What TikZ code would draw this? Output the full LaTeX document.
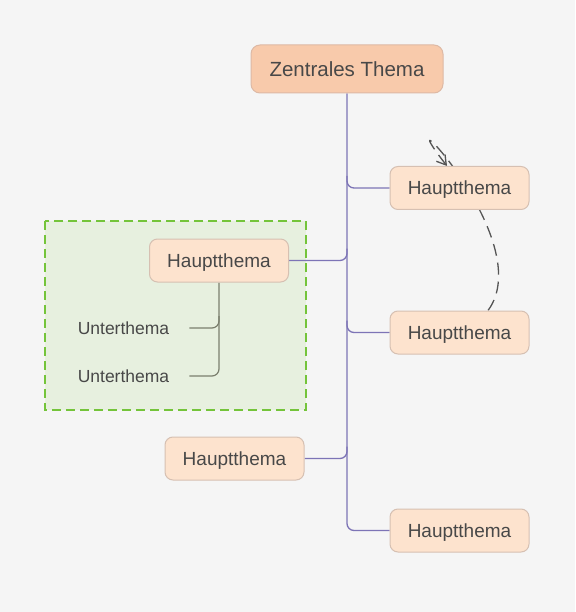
\documentclass[tikz,border=0pt]{standalone}
\usepackage{fontspec}
\setmainfont{Liberation Sans}
\usetikzlibrary{arrows.meta,positioning}

\definecolor{bgcol}{HTML}{F5F5F5}
\definecolor{zfill}{HTML}{F8CAAB}
\definecolor{zdraw}{HTML}{DDB9A5}
\definecolor{hfill}{HTML}{FDE3CE}
\definecolor{hdraw}{HTML}{D6C0B2}
\definecolor{txt}{HTML}{484848}
\definecolor{trunkcol}{HTML}{7D74B6}
\definecolor{subcol}{HTML}{7B7F6E}
\definecolor{grpfill}{HTML}{E7F0DF}
\definecolor{grpdraw}{HTML}{74C43A}
\definecolor{relcol}{HTML}{555555}

\pgfdeclarelayer{back}
\pgfdeclarelayer{lines}
\pgfsetlayers{back,lines,main}

\begin{document}
\begin{tikzpicture}[x=1pt,y=-1pt,
  central/.style={draw=zdraw,fill=zfill,line width=1pt,rounded corners=9pt,
    minimum width=192pt,minimum height=48pt,text=txt,font=\fontsize{20.5}{24}\selectfont},
  topic/.style={draw=hdraw,fill=hfill,line width=1pt,rounded corners=8pt,text depth=0pt,
    minimum width=139pt,minimum height=43pt,text=txt,font=\fontsize{19}{22}\selectfont},
  subtopic/.style={inner xsep=20pt,text=txt,font=\fontsize{17.5}{20}\selectfont},
  trunk/.style={draw=trunkcol,line width=1.3pt,rounded corners=7pt},
  subline/.style={draw=subcol,line width=1.2pt,rounded corners=7pt},
  relation/.style={draw=relcol,line width=1.3pt,dash pattern=on 12pt off 7pt,
    {Straight Barb[length=9pt,width=11pt]}-},
  group/.style={draw=grpdraw,fill=grpfill,line width=2.5pt,dash pattern=on 9pt off 5pt}]
\useasboundingbox (0,0) rectangle (575,612);

\begin{pgfonlayer}{back}
\fill[bgcol] (0,0) rectangle (575,612);
\draw[group] (45,221) rectangle (306,410);
\end{pgfonlayer}

\node[central] (z) at (347,69) {Zentrales Thema};
\node[topic] (h1) at (459.5,188) {Hauptthema};
\node[topic] (h2) at (459.5,332.5) {Hauptthema};
\node[topic] (h3) at (459.5,530.5) {Hauptthema};
\node[topic] (hl) at (219,260.5) {Hauptthema};
\node[topic] (hl2) at (234.5,458.5) {Hauptthema};
\node[subtopic] (u1) at (123.5,328) {Unterthema};
\node[subtopic] (u2) at (123.5,376) {Unterthema};

\begin{pgfonlayer}{lines}
% branches of the central topic
\draw[trunk] (z.south) |- (h3.west);
\draw[trunk] ([yshift=12pt]h1.west -| z.south) |- (h1.west);
\draw[trunk] ([yshift=12pt]h2.west -| z.south) |- (h2.west);
\draw[trunk] (hl.east) -| ([yshift=12pt]hl.east -| z.south);
\draw[trunk] (hl2.east) -| ([yshift=12pt]hl2.east -| z.south);
% sub topics
\draw[subline] (hl.south) |- (u2.east);
\draw[subline] ([yshift=12pt]u1.east -| hl.south) |- (u1.east);
% relation
\draw[relation] ([xshift=-12.5pt]h1.north) .. controls (380,80) and (540,240) .. ([xshift=28.5pt]h2.north);
\end{pgfonlayer}
\end{tikzpicture}
\end{document}
